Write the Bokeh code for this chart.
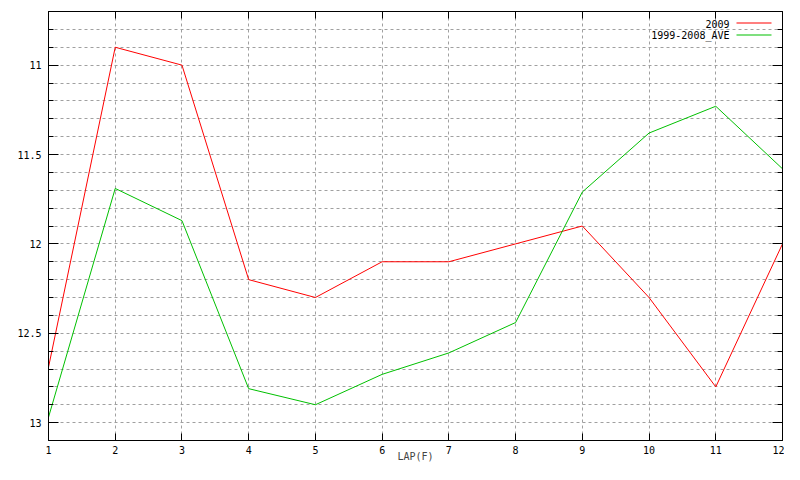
from bokeh.plotting import figure
from bokeh.models import (Range1d, FixedTicker, LinearAxis, NumeralTickFormatter,
                          Label, Arrow)
from bokeh.embed import file_html
from bokeh.resources import INLINE

# ---- data ----
laps = [1, 2, 3, 4, 5, 6, 7, 8, 9, 10, 11, 12]
y2009 = [12.69, 10.90, 11.00, 12.20, 12.30, 12.10, 12.10, 12.00, 11.90, 12.30, 12.80, 12.00]
y_ave = [12.97, 11.69, 11.87, 12.81, 12.90, 12.73, 12.61, 12.44, 11.71, 11.38, 11.23, 11.58]
series_names = ["2009", "1999-2008_AVE"]
series_colors = ["#ff0000", "#00c000"]
y_major_ticks = [11, 11.5, 12, 12.5, 13]
y_minor_ticks = [10.8, 10.9, 11.1, 11.2, 11.3, 11.4, 11.6, 11.7, 11.8, 11.9,
                 12.1, 12.2, 12.3, 12.4, 12.6, 12.7, 12.8, 12.9]
x_label = "LAP(F)"

FONT = "DejaVu Sans Mono"
FS = "10px"
GRID = "#a0a0a0"

W, H = 784, 464
BL, BR, BT, BB = 48, 2, 11, 23
FRAME_H = H - BT - BB

p = figure(width=W, height=H, output_backend="svg", toolbar_location=None,
           x_range=Range1d(1, 12), y_range=Range1d(13.1, 10.7),
           min_border_left=BL, min_border_right=BR, min_border_top=BT, min_border_bottom=BB)
p.outline_line_color = "black"
p.outline_line_width = 1
p.background_fill_color = "white"

xt = FixedTicker(ticks=laps)
yt = FixedTicker(ticks=y_major_ticks, minor_ticks=y_minor_ticks)

def style_axis(ax, show_labels):
    ax.axis_line_color = "black"
    ax.major_tick_line_color = "black"
    ax.minor_tick_line_color = "black"
    ax.major_tick_in = 10
    ax.major_tick_out = 0
    ax.minor_tick_in = 5
    ax.minor_tick_out = 0
    ax.major_label_text_font = FONT
    if show_labels:
        ax.major_label_text_font_size = FS
        ax.major_label_text_color = "black"
    else:
        ax.major_label_text_font_size = "1px"
        ax.major_label_text_color = None
        ax.major_label_standoff = 0

p.xaxis.ticker = xt
p.yaxis.ticker = yt
p.yaxis.formatter = NumeralTickFormatter(format="0.[0]")
for ax in p.xaxis:
    style_axis(ax, True)
    ax.major_tick_in = 7
    ax.major_label_standoff = 5
    ax.axis_label = x_label
    ax.axis_label_text_font = FONT
    ax.axis_label_text_font_size = FS
    ax.axis_label_text_font_style = "normal"
    ax.axis_label_standoff = -6
for ax in p.yaxis:
    style_axis(ax, True)
    ax.major_label_standoff = 7

right = LinearAxis(ticker=yt)
style_axis(right, False)
p.add_layout(right, "right")
top = LinearAxis(ticker=xt)
style_axis(top, False)
top.major_tick_in = 7
p.add_layout(top, "above")

p.xgrid.ticker = xt
p.xgrid.grid_line_color = GRID
p.xgrid.grid_line_dash = "3 3"
p.ygrid.ticker = yt
p.ygrid.grid_line_color = GRID
p.ygrid.grid_line_dash = "3 3"
p.ygrid.minor_grid_line_color = GRID
p.ygrid.minor_grid_line_dash = "3 3"

p.line(laps, y2009, line_color=series_colors[0], line_width=1)
p.line(laps, y_ave, line_color=series_colors[1], line_width=1)

# gnuplot-style key: text right-aligned, sample line to its right
for i, (name, col) in enumerate(zip(series_names, series_colors)):
    yy = FRAME_H - 13 - 12 * i
    p.add_layout(Label(x=681, y=yy, x_units="screen", y_units="screen",
                       text=name, text_align="right", text_baseline="middle",
                       text_font=FONT, text_font_size=FS, text_color="black"))
    p.add_layout(Arrow(x_start=688, y_start=yy + 0.5, x_end=723, y_end=yy + 0.5,
                       start_units="screen", end_units="screen", end=None,
                       line_color=col, line_width=1.2, line_alpha=1.0))

open("out.html", "w").write(file_html(p, INLINE))
